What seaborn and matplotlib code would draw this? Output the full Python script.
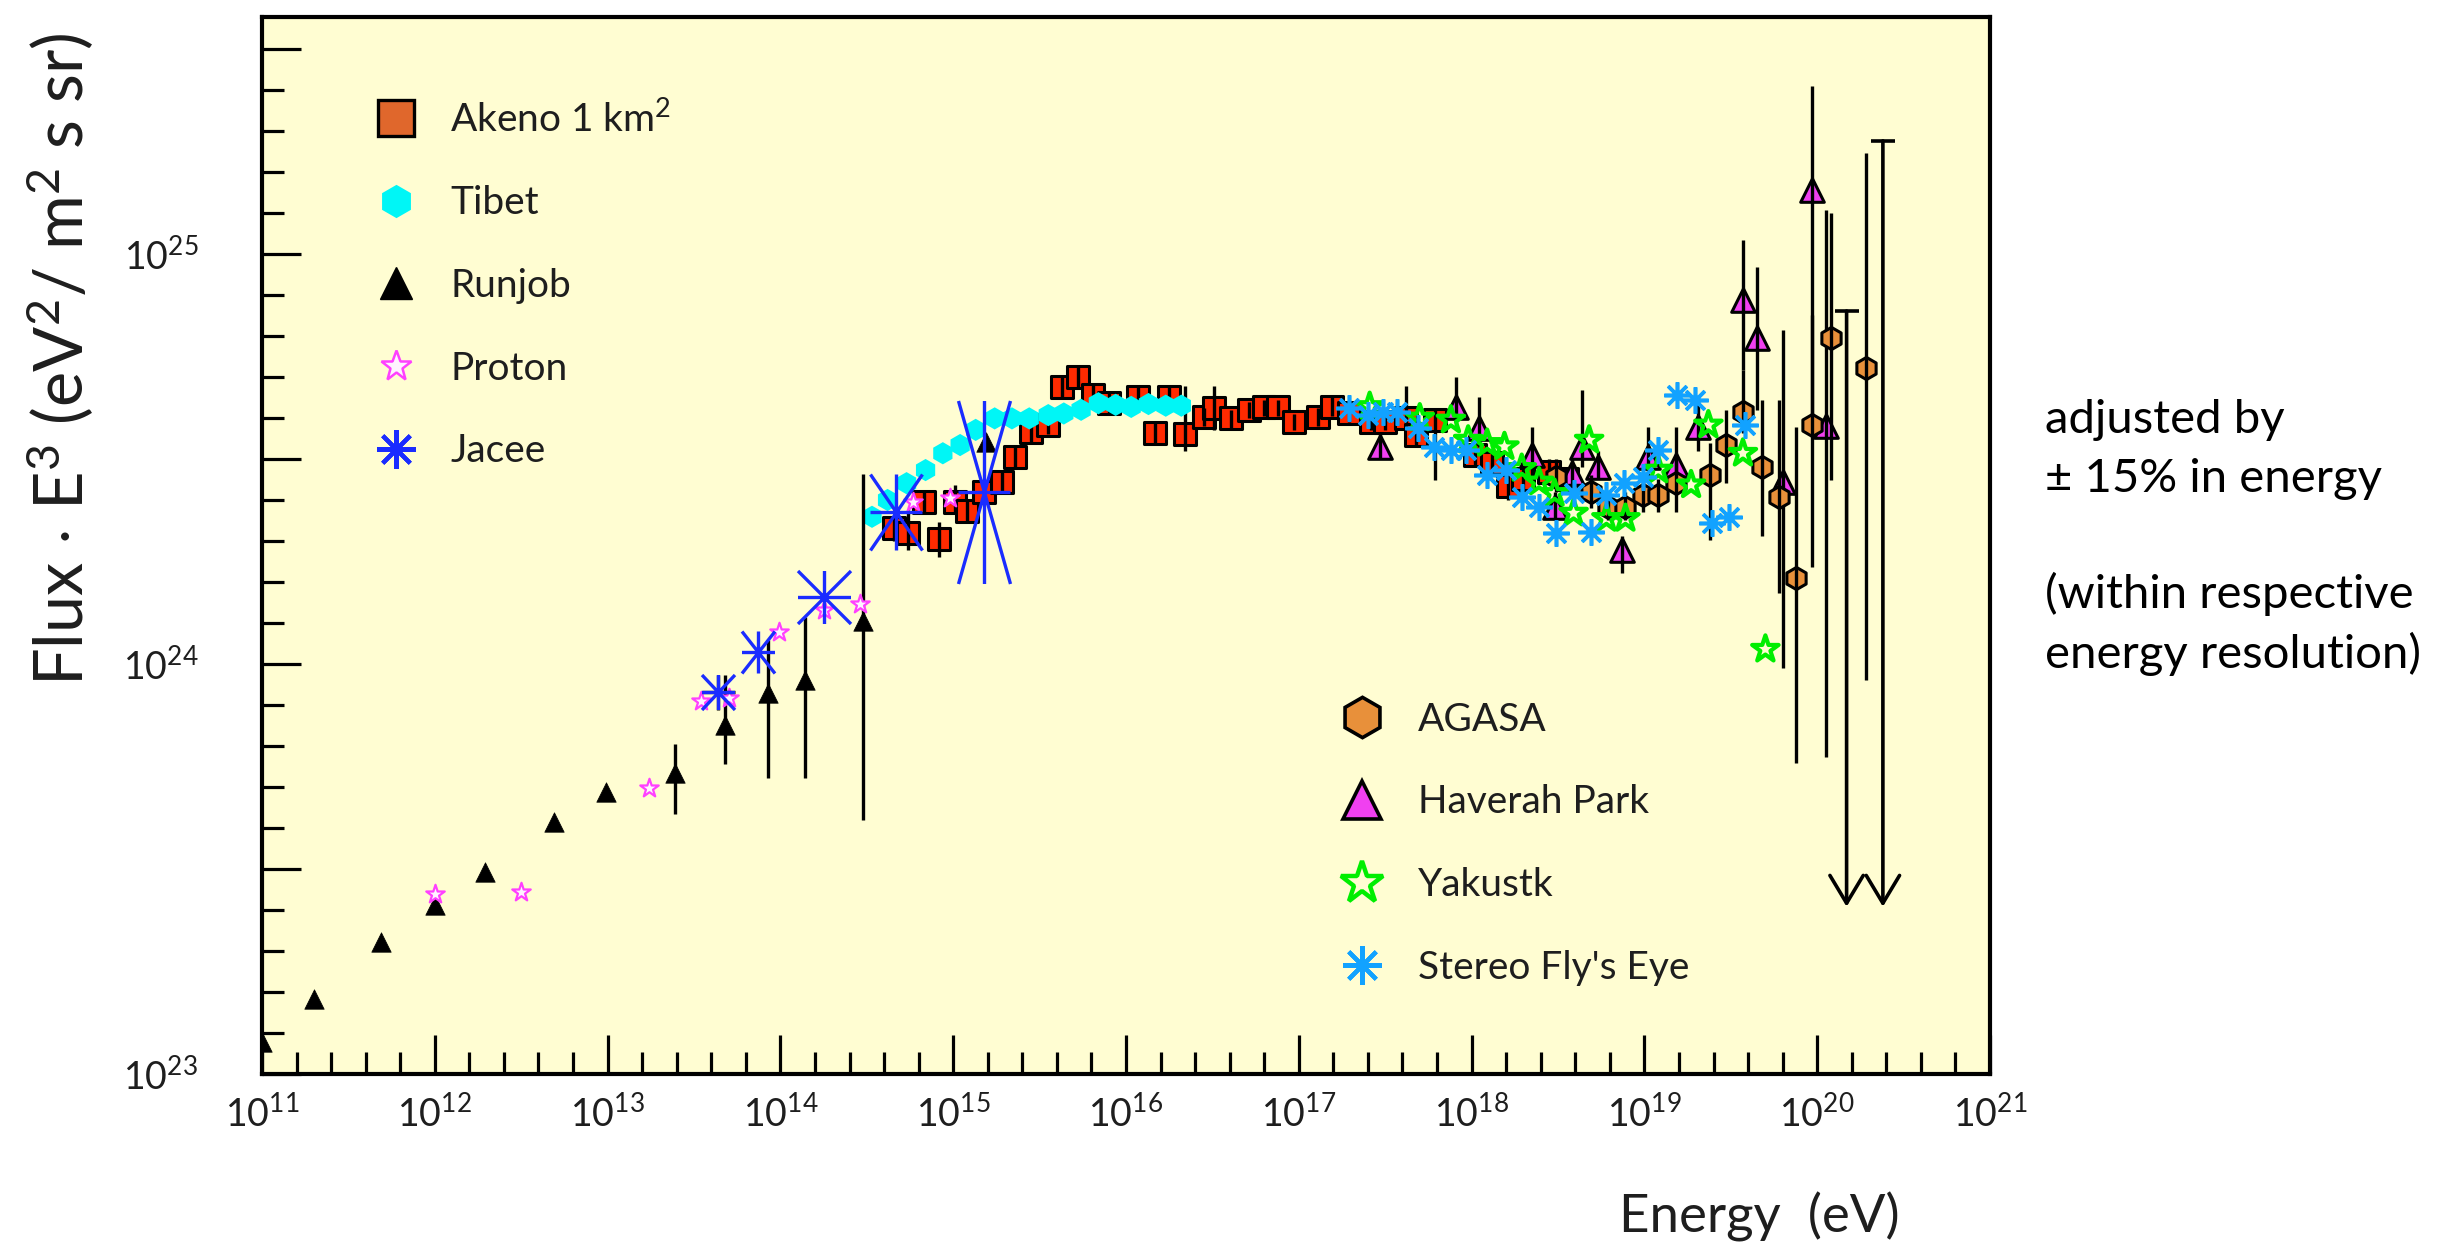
import numpy as np
import matplotlib
matplotlib.use("Agg")
import matplotlib.pyplot as plt
import seaborn as sns
from matplotlib.path import Path
from matplotlib.lines import Line2D
from matplotlib.ticker import FixedLocator, FuncFormatter, NullFormatter

# ---------------------------------------------------------------------------
# Data (log10 of energy in eV, log10 of flux * E^3 in eV^2 m^-2 s^-1 sr^-1)
# ---------------------------------------------------------------------------
akeno_log_e = [14.66, 14.74, 14.83, 14.92, 15.01, 15.08, 15.18, 15.28, 15.36, 15.45,
               15.55, 15.63, 15.72, 15.81, 15.90, 16.07, 16.17, 16.25, 16.34, 16.45,
               16.51, 16.61, 16.71, 16.80, 16.88, 16.97, 17.11, 17.19, 17.29, 17.42,
               17.50, 17.62, 17.68, 17.79, 18.02, 18.12, 18.21, 18.30, 18.45, 18.55]
akeno_log_f = [24.331, 24.319, 24.396, 24.304, 24.396, 24.372, 24.420, 24.445, 24.506, 24.567,
               24.583, 24.676, 24.701, 24.656, 24.636, 24.652, 24.564, 24.652, 24.561, 24.602,
               24.624, 24.599, 24.620, 24.626, 24.626, 24.591, 24.603, 24.628, 24.611, 24.591,
               24.591, 24.600, 24.559, 24.595, 24.510, 24.490, 24.433, 24.450, 24.469, 24.450]
akeno_lo = [24.300, 24.278, 24.370, 24.262, 24.368, 24.345, 24.390, 24.420, 24.480, 24.540,
            24.560, 24.650, 24.675, 24.630, 24.610, 24.630, 24.540, 24.630, 24.520, 24.580,
            24.571, 24.575, 24.600, 24.605, 24.605, 24.570, 24.580, 24.605, 24.590, 24.570,
            24.570, 24.575, 24.535, 24.449, 24.480, 24.460, 24.400, 24.420, 24.440, 24.420]
akeno_hi = [24.360, 24.375, 24.420, 24.347, 24.437, 24.400, 24.450, 24.470, 24.530, 24.590,
            24.610, 24.700, 24.725, 24.680, 24.660, 24.675, 24.590, 24.675, 24.677, 24.625,
            24.677, 24.620, 24.640, 24.645, 24.645, 24.610, 24.625, 24.650, 24.630, 24.615,
            24.615, 24.677, 24.585, 24.620, 24.540, 24.520, 24.470, 24.480, 24.500, 24.480]

tibet_log_e = [14.53, 14.62, 14.73, 14.84, 14.94, 15.04, 15.13, 15.24, 15.34, 15.44,
               15.55, 15.64, 15.74, 15.84, 15.94, 16.03, 16.13, 16.23, 16.32]
tibet_log_f = [24.359, 24.400, 24.441, 24.473, 24.514, 24.534, 24.571, 24.599, 24.599, 24.599,
               24.607, 24.611, 24.620, 24.636, 24.632, 24.627, 24.634, 24.630, 24.630]

runjob_log_e = [11.00, 11.30, 11.69, 12.00, 12.29, 12.69, 12.99, 13.39, 13.68, 13.93,
                14.14, 14.48, 15.19]
runjob_log_f = [23.078, 23.183, 23.323, 23.412, 23.492, 23.615, 23.688, 23.735, 23.850, 23.930,
                23.960, 24.106, 24.542]
runjob_err_log_e = [13.39, 13.68, 13.93, 14.14, 14.48]
runjob_lo = [23.634, 23.756, 23.723, 23.723, 23.620]
runjob_hi = [23.805, 23.973, 24.059, 24.115, 24.463]

proton_log_e = [12.00, 12.50, 13.24, 13.54, 13.70, 13.99, 14.25, 14.46, 14.77, 14.98]
proton_log_f = [23.439, 23.444, 23.697, 23.910, 23.917, 24.079, 24.132, 24.146, 24.396, 24.406]

jacee_log_e = [13.64, 13.87, 14.25, 14.67, 15.18]
jacee_log_f = [23.932, 24.029, 24.164, 24.371, 24.420]

agasa_log_e = [18.49, 18.69, 18.79, 18.89, 18.99, 19.08, 19.18, 19.38, 19.47, 19.57,
               19.68, 19.78, 19.88, 19.97, 20.08, 20.28]
agasa_log_f = [24.457, 24.420, 24.384, 24.384, 24.412, 24.412, 24.441, 24.461, 24.534, 24.615,
               24.481, 24.408, 24.209, 24.583, 24.794, 24.721]
agasa_lo = [24.420, 24.380, 24.350, 24.350, 24.370, 24.370, 24.370, 24.302, 24.441, 24.563,
            24.311, 24.173, 23.759, 24.237, 24.449, 23.961]
agasa_hi = [24.500, 24.460, 24.420, 24.420, 24.450, 24.450, 24.500, 24.539, 24.620, 24.717,
            24.644, 24.644, 24.579, 24.850, 25.099, 25.246]
# upper limits: bar top and arrow tip
agasa_ul_log_e = [20.17, 20.38]
agasa_ul_top = [24.861, 25.276]
agasa_ul_tip = [23.408, 23.408]

hp_log_e = [17.47, 17.91, 18.04, 18.35, 18.48, 18.58, 18.64, 18.73, 18.87, 19.02,
            19.18, 19.31, 19.57, 19.65, 19.80, 19.97, 20.05]
hp_log_f = [24.530, 24.628, 24.575, 24.510, 24.384, 24.465, 24.530, 24.481, 24.278, 24.506,
            24.485, 24.579, 24.888, 24.794, 24.444, 25.156, 24.580]
hp_lo = [24.500, 24.580, 24.530, 24.450, 24.350, 24.430, 24.480, 24.450, 24.221, 24.450,
         24.430, 24.520, 24.717, 24.620, 23.990, 24.600, 23.774]
hp_hi = [24.560, 24.701, 24.650, 24.579, 24.420, 24.500, 24.668, 24.520, 24.311, 24.579,
         24.579, 24.640, 25.034, 24.969, 24.815, 25.410, 25.107]

yakutsk_log_e = [17.41, 17.70, 17.88, 17.98, 18.09, 18.19, 18.29, 18.39, 18.48, 18.59,
                 18.68, 18.78, 18.89, 19.08, 19.27, 19.37, 19.57, 19.70]
yakutsk_log_f = [24.628, 24.600, 24.595, 24.546, 24.538, 24.530, 24.477, 24.444, 24.416, 24.368,
                 24.546, 24.355, 24.355, 24.473, 24.437, 24.583, 24.514, 24.036]

sfe_log_e = [17.29, 17.40, 17.49, 17.57, 17.69, 17.78, 17.88, 17.97, 18.09, 18.20,
             18.29, 18.39, 18.49, 18.59, 18.69, 18.78, 18.88, 18.99, 19.08, 19.19,
             19.29, 19.39, 19.49, 19.58]
sfe_log_f = [24.624, 24.607, 24.615, 24.615, 24.575, 24.530, 24.522, 24.522, 24.461, 24.473,
             24.408, 24.384, 24.319, 24.416, 24.323, 24.412, 24.441, 24.457, 24.522, 24.656,
             24.644, 24.343, 24.359, 24.583]

x_decades = list(range(11, 22))
y_decades = [23, 24, 25]

# ---------------------------------------------------------------------------
# Styling
# ---------------------------------------------------------------------------
sns.set_theme(style="ticks")
plt.rcParams["font.family"] = ["Lato", "DejaVu Sans"]
plt.rcParams["mathtext.fontset"] = "custom"
plt.rcParams["mathtext.rm"] = "Lato"
plt.rcParams["mathtext.it"] = "Lato:italic"
plt.rcParams["mathtext.bf"] = "Lato:bold"
plt.rcParams["mathtext.default"] = "regular"

TEXT = "#1e1e1e"
C_AKENO = "#ff2a00"
C_AKENO_KEY = "#e0672c"
C_TIBET = "#00f6f6"
C_PROTON = "#ff40ff"
C_JACEE = "#1a2cff"
C_AGASA = "#e8903a"
C_HP = "#f040f0"
C_YAK = "#00ee00"
C_SFE = "#12a2ff"
ERR_LW = 2.4


def p10(v):
    return np.power(10.0, np.asarray(v, dtype=float))


def star_burst(w, h):
    """Asterisk made of a vertical, a horizontal and two corner-to-corner strokes."""
    verts = [(0, -h), (0, h), (-w, 0), (w, 0), (-w, -h), (w, h), (-w, h), (w, -h)]
    codes = [Path.MOVETO, Path.LINETO] * 4
    return Path(verts, codes)


fig = plt.figure(figsize=(24.57, 12.45), dpi=100)
ax = fig.add_axes([0.10664, 0.13735, 0.70330, 0.84932])
ax.set_facecolor("#fffdd2")
ax.set_xscale("log")
ax.set_yscale("log")
ax.set_xlim(1e11, 1e21)
ax.set_ylim(1e23, 10 ** 25.579)

# --- Akeno 1 km^2 -----------------------------------------------------------
sns.scatterplot(x=p10(akeno_log_e), y=p10(akeno_log_f), ax=ax, marker="s", s=16 ** 2,
                color=C_AKENO, edgecolor="black", linewidth=2.2, zorder=3, legend=False)
ax.vlines(p10(akeno_log_e), p10(akeno_lo), p10(akeno_hi), colors="black", lw=ERR_LW, zorder=3.5)

# --- Tibet ------------------------------------------------------------------
sns.scatterplot(x=p10(tibet_log_e), y=p10(tibet_log_f), ax=ax, marker="h", s=16 ** 2,
                color=C_TIBET, edgecolor="none", linewidth=0, zorder=4, legend=False)

# --- Runjob -----------------------------------------------------------------
ax.vlines(p10(runjob_err_log_e), p10(runjob_lo), p10(runjob_hi), colors="black", lw=ERR_LW, zorder=4.8)
sns.scatterplot(x=p10(runjob_log_e), y=p10(runjob_log_f), ax=ax, marker="^", s=14 ** 2,
                color="black", edgecolor="black", linewidth=0.5, zorder=5, legend=False)

# --- Proton -----------------------------------------------------------------
sns.scatterplot(x=p10(proton_log_e), y=p10(proton_log_f), ax=ax, marker="*", s=14 ** 2,
                color="#fff4ff", edgecolor=C_PROTON, linewidth=1.6, zorder=5.5, legend=False)

# --- Jacee (asterisk extent follows each point's uncertainty box) -----------
jacee_box_px = [(33, 35), (33, 42), (53, 53), (52, 76), (52, 183)]
ax.errorbar(p10(jacee_log_e[:1]), p10(jacee_log_f[:1]),
            xerr=[[p10(jacee_log_e[0]) - p10(13.545)], [p10(13.74) - p10(jacee_log_e[0])]],
            yerr=[[p10(jacee_log_f[0]) - p10(23.888)], [p10(23.973) - p10(jacee_log_f[0])]],
            fmt="none", ecolor="black", elinewidth=ERR_LW, zorder=5.8)
for e, f, (wpx, hpx) in zip(jacee_log_e, jacee_log_f, jacee_box_px):
    ax.plot([p10(e)], [p10(f)], ls="none", marker=star_burst(wpx / 2, hpx / 2),
            ms=max(wpx, hpx) / 1.389, mfc="none", mec=C_JACEE, mew=2.4, zorder=6)

# --- Haverah Park -----------------------------------------------------------
sns.scatterplot(x=p10(hp_log_e), y=p10(hp_log_f), ax=ax, marker="^", s=17 ** 2,
                color=C_HP, edgecolor="black", linewidth=2.2, zorder=6.5, legend=False)
ax.vlines(p10(hp_log_e), p10(hp_lo), p10(hp_hi), colors="black", lw=ERR_LW, zorder=6.6)

# --- AGASA ------------------------------------------------------------------
sns.scatterplot(x=p10(agasa_log_e), y=p10(agasa_log_f), ax=ax, marker="h", s=16 ** 2,
                color=C_AGASA, edgecolor="black", linewidth=2.2, zorder=7, legend=False)
ax.vlines(p10(agasa_log_e), p10(agasa_lo), p10(agasa_hi), colors="black", lw=ERR_LW, zorder=7.1)
for e, top, tip in zip(agasa_ul_log_e, agasa_ul_top, agasa_ul_tip):
    ax.annotate("", xy=(p10(e), p10(tip)), xytext=(p10(e), p10(top)),
                arrowprops=dict(arrowstyle="->,head_length=1.0,head_width=0.6",
                                mutation_scale=20, lw=2.6, color="black",
                                shrinkA=0, shrinkB=0), zorder=7.1)
    ax.plot([p10(e)], [p10(top)], ls="none", marker="_", ms=17, mew=2.6, color="black", zorder=7.1)

# --- Yakutsk ----------------------------------------------------------------
sns.scatterplot(x=p10(yakutsk_log_e), y=p10(yakutsk_log_f), ax=ax, marker="*", s=20 ** 2,
                facecolor="none", edgecolor=C_YAK, linewidth=3.0, zorder=7.5, legend=False)

# --- Stereo Fly's Eye -------------------------------------------------------
ax.plot(p10(sfe_log_e), p10(sfe_log_f), ls="none", marker=(8, 2, 0), ms=19,
        mec=C_SFE, mew=2.6, zorder=8)

# ---------------------------------------------------------------------------
# Axes, ticks, frame
# ---------------------------------------------------------------------------
for side in ["left", "right", "top", "bottom"]:
    ax.spines[side].set_visible(True)
    ax.spines[side].set_color("black")
    ax.spines[side].set_linewidth(3.0)

ax.xaxis.set_major_locator(FixedLocator(p10(x_decades)))
ax.xaxis.set_minor_locator(FixedLocator(p10(np.arange(11.0, 21.0, 0.2))))
y_major = np.arange(23.0, 25.51, 0.5)
ax.yaxis.set_major_locator(FixedLocator(p10(y_major)))
ax.yaxis.set_minor_locator(FixedLocator(p10(np.arange(23.0, 25.55, 0.1))))


def decade_label(v, _pos):
    k = np.log10(v)
    if abs(k - round(k)) < 1e-6:
        return r"$10^{%d}$" % int(round(k))
    return ""


ax.xaxis.set_major_formatter(FuncFormatter(decade_label))
ax.yaxis.set_major_formatter(FuncFormatter(decade_label))
ax.xaxis.set_minor_formatter(NullFormatter())
ax.yaxis.set_minor_formatter(NullFormatter())

ax.tick_params(axis="both", which="major", direction="in", length=28, width=2.3,
               color="black", labelcolor=TEXT, labelsize=27, top=False, right=False)
ax.tick_params(axis="both", which="minor", direction="in", length=16, width=2.3,
               color="black", top=False, right=False)
ax.tick_params(axis="x", which="major", pad=15)
ax.tick_params(axis="y", which="major", pad=46)

# ---------------------------------------------------------------------------
# Legends
# ---------------------------------------------------------------------------
low_handles = [
    Line2D([], [], ls="none", marker="s", ms=26, mfc=C_AKENO_KEY, mec="black", mew=2.4),
    Line2D([], [], ls="none", marker="h", ms=24, mfc=C_TIBET, mec="none"),
    Line2D([], [], ls="none", marker="^", ms=23, mfc="black", mec="black"),
    Line2D([], [], ls="none", marker="*", ms=23, mfc="#fff4ff", mec=C_PROTON, mew=1.8),
    Line2D([], [], ls="none", marker=(8, 2, 0), ms=28, mec=C_JACEE, mew=3.0),
]
low_labels = [r"Akeno 1 km$^2$", "Tibet", "Runjob", "Proton", "Jacee"]
leg1 = ax.legend(low_handles, low_labels, loc="upper left", bbox_to_anchor=(0.0663, 0.921),
                 frameon=False, fontsize=28, handlelength=1.0, handletextpad=0.9,
                 labelspacing=1.2, borderpad=0, borderaxespad=0, labelcolor=TEXT)
ax.add_artist(leg1)

high_handles = [
    Line2D([], [], ls="none", marker="h", ms=29, mfc=C_AGASA, mec="black", mew=2.6),
    Line2D([], [], ls="none", marker="^", ms=28, mfc=C_HP, mec="black", mew=2.6),
    Line2D([], [], ls="none", marker="*", ms=32, mfc="none", mec=C_YAK, mew=3.2),
    Line2D([], [], ls="none", marker=(8, 2, 0), ms=28, mec=C_SFE, mew=3.0),
]
high_labels = ["AGASA", "Haverah Park", "Yakustk", "Stereo Fly's Eye"]
ax.legend(high_handles, high_labels, loc="upper left", bbox_to_anchor=(0.6253, 0.352),
          frameon=False, fontsize=28, handlelength=1.0, handletextpad=0.95,
          labelspacing=1.2, borderpad=0, borderaxespad=0, labelcolor=TEXT)

# ---------------------------------------------------------------------------
# Axis titles and side note
# ---------------------------------------------------------------------------
fig.text(0.0244, 0.711, r"Flux $\cdot$ E$^3$ (eV$^2$/ m$^2$ s sr)", rotation=90,
         ha="center", va="center", fontsize=48, color=TEXT)
fig.text(0.716, 1 - 1233 / 1245, "Energy  (eV)", ha="center", va="baseline",
         fontsize=38, color=TEXT)

note_lines = [("adjusted by", 433), ("\u00b1 15% in energy", 492),
              ("(within respective", 608), ("energy resolution)", 668)]
for txt, base in note_lines:
    fig.text(2045 / 2457, 1 - base / 1245, txt, ha="left", va="baseline",
             fontsize=34, color="black")

fig.savefig("out.png", dpi=100, facecolor="white")
